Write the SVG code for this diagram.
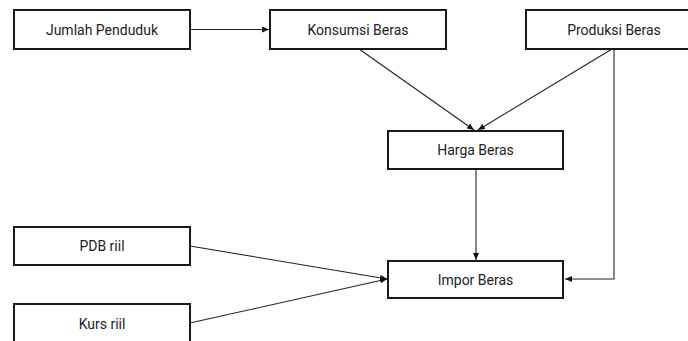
<svg xmlns="http://www.w3.org/2000/svg" width="688" height="341" viewBox="0 0 688 341">
<style>
.box{fill:#fff;stroke:#1a1a1a;stroke-width:2}
.lbl{font-family:Roboto,"Liberation Sans",sans-serif;font-size:14px;fill:#222;text-anchor:middle;dominant-baseline:central}
.edge{fill:none;stroke:#222;stroke-width:1.1}
</style>
<defs>
<marker id="ah" markerWidth="8" markerHeight="6" refX="7" refY="3" orient="auto" markerUnits="userSpaceOnUse">
<path d="M0,0 L7,3 L0,6 Z" fill="#111"/>
</marker>
</defs>
<rect width="688" height="341" fill="#fff"/>
<g id="connectors">
<line class="edge" x1="190" y1="29.5" x2="269" y2="29.5" marker-end="url(#ah)"/>
<line class="edge" x1="359" y1="49" x2="474" y2="130" marker-end="url(#ah)"/>
<line class="edge" x1="612" y1="49" x2="478" y2="130" marker-end="url(#ah)"/>
<line class="edge" x1="476" y1="169" x2="476" y2="260" marker-end="url(#ah)"/>
<polyline class="edge" points="614,49 614,279 565,279" marker-end="url(#ah)"/>
<line class="edge" x1="190" y1="246" x2="387" y2="279" marker-end="url(#ah)"/>
<line class="edge" x1="190" y1="323" x2="387" y2="279" marker-end="url(#ah)"/>
</g>
<g id="jumlah-penduduk"><rect class="box" x="14" y="10" width="176" height="39"/><text class="lbl" x="102" y="29.5">Jumlah Penduduk</text></g>
<g id="konsumsi-beras"><rect class="box" x="270" y="10" width="176" height="39"/><text class="lbl" x="358" y="29.5">Konsumsi Beras</text></g>
<g id="produksi-beras"><rect class="box" x="526" y="10" width="176" height="39"/><text class="lbl" x="614" y="29.5">Produksi Beras</text></g>
<g id="harga-beras"><rect class="box" x="388" y="131" width="175" height="38"/><text class="lbl" x="475.5" y="150">Harga Beras</text></g>
<g id="impor-beras"><rect class="box" x="388" y="261" width="175" height="37"/><text class="lbl" x="475.5" y="279.5">Impor Beras</text></g>
<g id="pdb-riil"><rect class="box" x="14" y="227" width="176" height="38"/><text class="lbl" x="102" y="246">PDB riil</text></g>
<g id="kurs-riil"><rect class="box" x="14" y="304" width="176" height="39"/><text class="lbl" x="102" y="324">Kurs riil</text></g>
</svg>
